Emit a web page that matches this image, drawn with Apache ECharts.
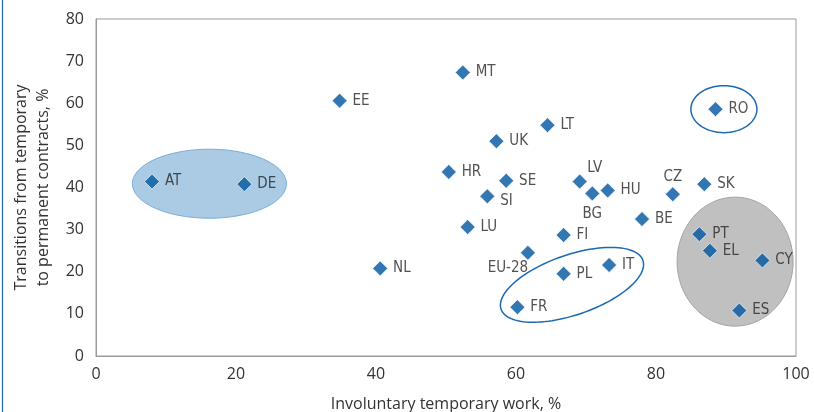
<!DOCTYPE html>
<html>
<head>
<meta charset="utf-8">
<script src="https://cdn.jsdelivr.net/npm/echarts@6/dist/echarts.min.js"></script>
<style>html,body{margin:0;padding:0;background:#fff}#c{width:814px;height:412px}</style>
</head>
<body>
<div id="c"></div>
<script>
// Data
var countries = ['AT','DE','EE','NL','MT','RO','LT','UK','HR','SE','SI','LV','BG','HU','CZ','SK','BE','LU','FI','EU-28','PL','IT','FR','PT','EL','CY','ES'];
var involuntary = [8.0,21.2,34.8,40.6,52.4,88.5,64.5,57.2,50.4,58.6,55.9,69.1,70.9,73.1,82.4,86.9,78.0,53.1,66.8,61.7,66.8,73.3,60.2,86.2,87.7,95.2,91.9];
var transitions = [41.4,40.8,60.6,20.8,67.3,58.6,54.8,51.0,43.7,41.6,37.9,41.4,38.6,39.3,38.4,40.8,32.5,30.6,28.7,24.5,19.5,21.6,11.6,28.9,25.0,22.7,10.8];
var xTicks = [0,20,40,60,80,100];
var yTicks = [0,10,20,30,40,50,60,70,80];

// label placement exceptions (annotation styling)
var labelPlace = {
  'LV': {position:'top', offset:[15,7]},
  'BG': {position:'bottom'},
  'CZ': {position:'top', distance:2},
  'SI': {position:'right', offset:[0,5]},
  'EU-28': {position:'bottom', offset:[-20,-5]}
};

// highlight ellipses: centre in data units, radii in pixels, rotation in degrees
var ellipses = [
  {cx:16.2, cy:40.9, rx:77, ry:34.5, rot:0, fill:'#abcbe4', stroke:'#7aaad3', lw:1},
  {cx:89.7, cy:58.6, rx:33, ry:23.5, rot:0, fill:null, stroke:'#1a69b3', lw:1.5},
  {cx:91.3, cy:22.4, rx:58, ry:64.5, rot:0, fill:'#c0c0c0', stroke:'#a3a3a3', lw:1},
  {cx:68.0, cy:16.9, rx:75, ry:30, rot:19, fill:null, stroke:'#1a69b3', lw:1.5}
];

var pts = countries.map(function(c,i){
  var d = {value:[involuntary[i], transitions[i]], name:c};
  if (labelPlace[c]) d.label = labelPlace[c];
  return d;
});

var chart = echarts.init(document.getElementById('c'));
var axisText = {color:'#333', fontFamily:'Open Sans', fontSize:16};
chart.setOption({
  animation:false,
  grid:{left:96, right:18, top:19, bottom:56, show:true, borderColor:'#9a9a9a', borderWidth:1, outerBoundsMode:'none', containLabel:false},
  xAxis:{type:'value', min:0, max:100, interval:20,
    name:'Involuntary temporary work, %', nameLocation:'middle', nameGap:40,
    nameTextStyle:{color:'#333', fontFamily:'Open Sans', fontSize:16},
    axisLine:{show:true, lineStyle:{color:'#9a9a9a'}}, axisTick:{show:false},
    splitLine:{show:false}, axisLabel:Object.assign({margin:10, formatter:function(v){return xTicks.indexOf(v)>=0?String(v):'';}}, axisText)},
  yAxis:{type:'value', min:0, max:80, interval:10,
    name:'Transitions from temporary\nto permanent contracts, %', nameLocation:'middle', nameGap:42,
    nameTextStyle:{color:'#333', fontFamily:'Open Sans', fontSize:16, lineHeight:22},
    axisLine:{show:true, lineStyle:{color:'#9a9a9a'}}, axisTick:{show:false},
    splitLine:{show:false}, axisLabel:Object.assign({margin:12, formatter:function(v){return yTicks.indexOf(v)>=0?String(v):'';}}, axisText)},
  series:[{
    type:'scatter', symbol:'diamond', symbolSize:15, z:5,
    itemStyle:{color:'#00559f', borderColor:'#ffffff', borderWidth:0.8},
    label:{show:true, position:'right', distance:5, formatter:'{b}', color:'#262626',
      fontFamily:'Liberation Sans Narrow, DejaVu Sans Condensed, sans-serif', fontSize:15},
    data:pts
  }]
});

var els = [{type:'line', shape:{x1:2.5,y1:0,x2:2.5,y2:412}, style:{stroke:'#2463ad', lineWidth:1.2}, z:0}];
ellipses.forEach(function(e){
  var c = chart.convertToPixel({gridIndex:0},[e.cx,e.cy]);
  var r = e.rot*Math.PI/180, p=[];
  for (var k=0;k<120;k++){
    var t = k/120*2*Math.PI;
    var ex = e.rx*Math.cos(t), ey = e.ry*Math.sin(t);
    p.push([c[0]+ex*Math.cos(r)+ey*Math.sin(r), c[1]-ex*Math.sin(r)+ey*Math.cos(r)]);
  }
  els.push({type:'polygon', shape:{points:p}, z:0,
    style:{fill:e.fill||'none', stroke:e.stroke, lineWidth:e.lw}});
});
chart.setOption({graphic:{elements:els}});
</script>
</body>
</html>
